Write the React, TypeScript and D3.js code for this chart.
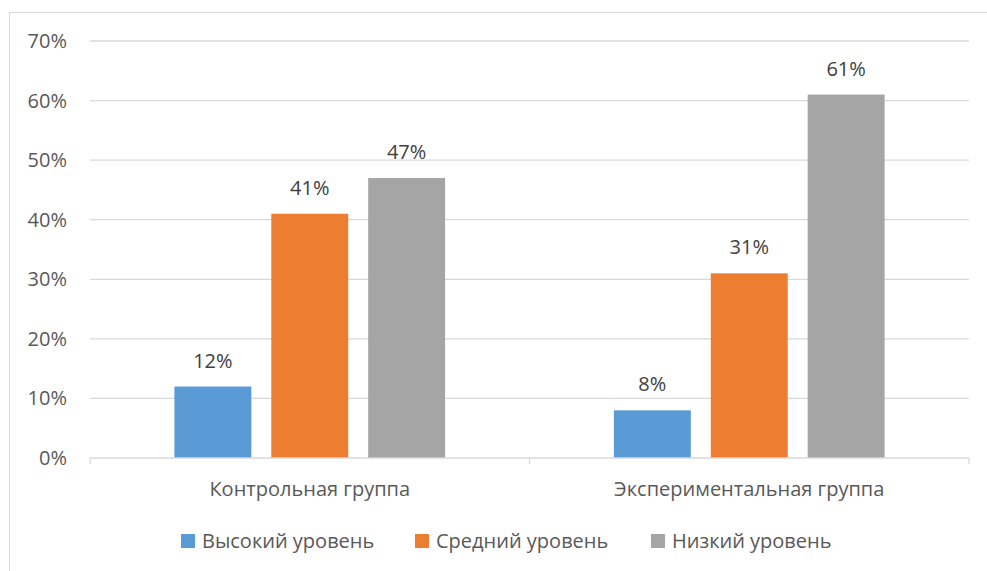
import React from "react";
import * as d3 from "d3";

const categories = ["Контрольная группа", "Экспериментальная группа"];
const seriesNames = ["Высокий уровень", "Средний уровень", "Низкий уровень"];
const seriesColors = ["#5B9BD5", "#ED7D31", "#A5A5A5"];
const highValues = [0.12, 0.08];
const midValues = [0.41, 0.31];
const lowValues = [0.47, 0.61];
const yTicks = [0, 0.1, 0.2, 0.3, 0.4, 0.5, 0.6, 0.7];

const W = 987;
const H = 571;
const FONT = "'Open Sans', Lato, sans-serif";

export default function App() {
  const series = [highValues, midValues, lowValues];
  const left = 90, right = 969, top = 41, bottom = 458;
  const x0 = d3.scaleBand<string>().domain(categories).range([left, right]).paddingInner(0).paddingOuter(0);
  const x1 = d3.scaleBand<number>().domain([0, 1, 2]).range([0, x0.bandwidth()]).paddingInner(0.206).paddingOuter(0.871);
  const y = d3.scaleLinear().domain([0, 0.7]).range([bottom, top]);
  const fmt = d3.format(".0%");
  const legendX = [181, 415, 651];

  return (
    <svg width={W} height={H} style={{ position: "absolute", left: 0, top: 0 }} fontFamily={FONT}>
      <rect x={0} y={0} width={W} height={H} fill="#fff" />
      <rect x={9.5} y={12.5} width={W + 10} height={H + 10} fill="none" stroke="#d9d9d9" />
      {yTicks.map((t) => (
        <g key={t}>
          {t > 0 && <line x1={left} x2={right} y1={y(t)} y2={y(t)} stroke="#d9d9d9" strokeWidth={1.3} />}
          <text x={67} y={y(t) + 7} textAnchor="end" fontSize={20} fill="#595959">{fmt(t)}</text>
        </g>
      ))}
      {categories.map((c, ci) =>
        series.map((s, si) => {
          const bx = x0(c)! + x1(si)!;
          const bw = x1.bandwidth();
          return (
            <g key={c + si}>
              <rect x={bx} y={y(s[ci])} width={bw} height={bottom - y(s[ci])} fill={seriesColors[si]} />
              <text x={bx + bw / 2} y={y(s[ci]) - 19} textAnchor="middle" fontSize={20} fill="#404040">{fmt(s[ci])}</text>
            </g>
          );
        })
      )}
      <line x1={left} x2={right} y1={bottom} y2={bottom} stroke="#d9d9d9" strokeWidth={1.3} />
      {[left, x0(categories[1])!, right].map((tx, i) => (
        <line key={i} x1={tx} x2={tx} y1={bottom} y2={bottom + 6} stroke="#d9d9d9" strokeWidth={1.3} />
      ))}
      {categories.map((c) => (
        <text key={c} x={x0(c)! + x0.bandwidth() / 2} y={496} textAnchor="middle" fontSize={20} fill="#595959">{c}</text>
      ))}
      {seriesNames.map((n, i) => (
        <g key={n}>
          <rect x={legendX[i]} y={534} width={14} height={14} fill={seriesColors[i]} />
          <text x={legendX[i] + 21} y={548} fontSize={20} fill="#595959">{n}</text>
        </g>
      ))}
    </svg>
  );
}
